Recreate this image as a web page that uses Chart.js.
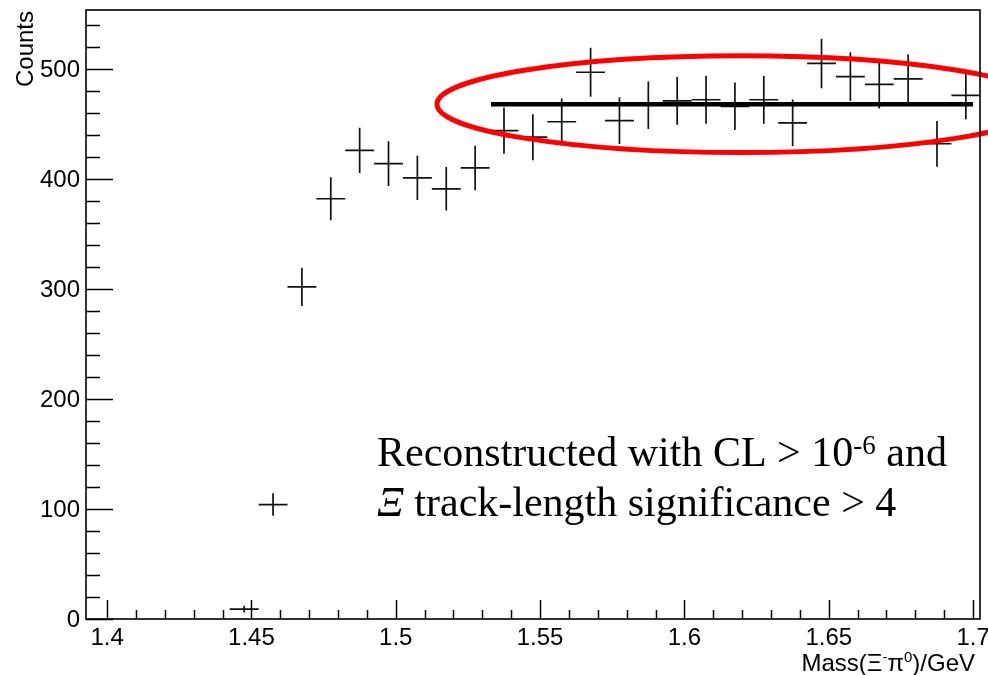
<!DOCTYPE html>
<html lang="en">
<head>
  <meta charset="UTF-8" />
  <title>Xi pi0 mass spectrum</title>
  <script src="https://cdn.jsdelivr.net/npm/chart.js"></script>
  <style>
    html, body { margin: 0; padding: 0; background: #fff; }
    #wrap { width: 988px; height: 675px; }
  </style>
</head>
<body>
  <div id="wrap"><canvas id="massChart" width="988" height="675"></canvas></div>

  <script>
    // bin centres (GeV) and counts
    const binCenters = [1.4475, 1.4575, 1.4675, 1.4775, 1.4875, 1.4975, 1.5075, 1.5175, 1.5275,
                        1.5375, 1.5475, 1.5575, 1.5675, 1.5775, 1.5875, 1.5975, 1.6075, 1.6175,
                        1.6275, 1.6375, 1.6475, 1.6575, 1.6675, 1.6775, 1.6875, 1.6975];
    const counts = [9, 104, 302, 382, 426, 414, 401, 391, 410,
                    444, 438, 452, 497, 453, 467, 471, 472, 466,
                    472, 451, 505, 493, 486, 491, 432, 476];
    const binWidth = 0.01;

    // flat fit over the upper region
    const fitRange = [1.533, 1.7];
    const fitLevel = 468;

    // axis ticks
    const xMajorTicks = [1.4, 1.45, 1.5, 1.55, 1.6, 1.65, 1.7];
    const xTickLabels = ['1.4', '1.45', '1.5', '1.55', '1.6', '1.65', '1.7'];
    const yMajorTicks = [0, 100, 200, 300, 400, 500];
    const yTickLabels = ['0', '100', '200', '300', '400', '500'];

    // highlighted region (centre and half-widths in data units)
    const ellipseCenter = [1.6195, 468];
    const ellipseRadii = [0.1052, 44];

    const points = binCenters.map((x, i) => ({ x: x, y: counts[i] }));

    // ROOT style crosses: bin width horizontally, sqrt(N) vertically
    const errorBars = {
      id: 'errorBars',
      beforeDatasetsDraw(chart) {
        const ctx = chart.ctx;
        const xs = chart.scales.x, ys = chart.scales.y;
        ctx.save();
        ctx.strokeStyle = '#111';
        ctx.lineWidth = 1.7;
        points.forEach(p => {
          const err = Math.sqrt(p.y);
          const px = xs.getPixelForValue(p.x);
          const py = ys.getPixelForValue(p.y);
          ctx.beginPath();
          ctx.moveTo(xs.getPixelForValue(p.x - binWidth / 2), py);
          ctx.lineTo(xs.getPixelForValue(p.x + binWidth / 2), py);
          ctx.moveTo(px, ys.getPixelForValue(p.y - err));
          ctx.lineTo(px, ys.getPixelForValue(p.y + err));
          ctx.stroke();
        });
        ctx.restore();
      }
    };

    // frame, inward ticks, labels, annotation
    const rootFrame = {
      id: 'rootFrame',
      afterDraw(chart) {
        const ctx = chart.ctx;
        const a = chart.chartArea;
        const xs = chart.scales.x, ys = chart.scales.y;
        ctx.save();

        // red ellipse
        const cx = xs.getPixelForValue(ellipseCenter[0]);
        const cy = ys.getPixelForValue(ellipseCenter[1]);
        const rx = xs.getPixelForValue(ellipseCenter[0] + ellipseRadii[0]) - cx;
        const ry = cy - ys.getPixelForValue(ellipseCenter[1] + ellipseRadii[1]);
        ctx.strokeStyle = '#ff0000';
        ctx.lineWidth = 5;
        ctx.beginPath();
        ctx.ellipse(cx, cy, rx, ry, 0, 0, Math.PI * 2);
        ctx.stroke();

        // frame
        ctx.strokeStyle = '#000';
        ctx.lineWidth = 1.6;
        ctx.strokeRect(a.left, a.top, a.right - a.left, a.bottom - a.top);

        // x ticks
        ctx.lineWidth = 1.5;
        ctx.beginPath();
        for (let i = 0; i <= 30; i++) {
          const v = 1.4 + i * 0.01;
          const px = Math.round(xs.getPixelForValue(v)) + 0.5;
          const len = (i % 5 === 0) ? 19 : 9;
          ctx.moveTo(px, a.bottom);
          ctx.lineTo(px, a.bottom - len);
        }
        // y ticks
        for (let v = 0; v <= 540; v += 20) {
          const py = Math.round(ys.getPixelForValue(v)) + 0.5;
          const len = (v % 100 === 0) ? 27 : 14;
          ctx.moveTo(a.left, py);
          ctx.lineTo(a.left + len, py);
        }
        ctx.stroke();

        // tick labels
        ctx.fillStyle = '#000';
        ctx.font = '24px "Liberation Sans", Arial, sans-serif';
        ctx.textAlign = 'center';
        ctx.textBaseline = 'alphabetic';
        xMajorTicks.forEach((v, i) => {
          ctx.fillText(xTickLabels[i], xs.getPixelForValue(v), 645);
        });
        ctx.textAlign = 'right';
        ctx.textBaseline = 'middle';
        yMajorTicks.forEach((v, i) => {
          ctx.fillText(yTickLabels[i], 80, ys.getPixelForValue(v) + 1);
        });

        // axis titles
        ctx.font = '24px "Liberation Sans", Arial, sans-serif';
        ctx.save();
        ctx.translate(33, 11);
        ctx.rotate(-Math.PI / 2);
        ctx.textAlign = 'right';
        ctx.textBaseline = 'alphabetic';
        ctx.fillText('Counts', 0, 0);
        ctx.restore();

        drawRich(ctx, [
          ['Mass(\u039E', 24, 0],
          ['-', 15, -9],
          ['\u03C0', 24, 0],
          ['0', 15, -9],
          [')/GeV', 24, 0]
        ], 975, 671, '"Liberation Sans", Arial, sans-serif', 'right');

        // annotation
        drawRich(ctx, [
          ['Reconstructed with CL > 10', 42, 0],
          ['-6', 27, -12],
          [' and', 42, 0]
        ], 377, 466, '"Liberation Serif", "Times New Roman", serif', 'left');
        drawRich(ctx, [
          ['\u039E', 42, 0, 'italic '],
          [' track-length significance > 4', 42, 0]
        ], 377, 516, '"Liberation Serif", "Times New Roman", serif', 'left');

        ctx.restore();
      }
    };

    // pieces: [text, size, baseline shift, style]
    function drawRich(ctx, pieces, x, y, family, align) {
      ctx.textAlign = 'left';
      ctx.textBaseline = 'alphabetic';
      const widths = pieces.map(p => {
        ctx.font = (p[3] || '') + p[1] + 'px ' + family;
        return ctx.measureText(p[0]).width;
      });
      const total = widths.reduce((s, w) => s + w, 0);
      let cx = align === 'right' ? x - total : x;
      pieces.forEach((p, i) => {
        ctx.font = (p[3] || '') + p[1] + 'px ' + family;
        ctx.fillText(p[0], cx, y + p[2]);
        cx += widths[i];
      });
    }

    new Chart(document.getElementById('massChart'), {
      type: 'scatter',
      data: {
        datasets: [
          {
            label: 'Counts',
            data: points,
            pointRadius: 0,
            pointHoverRadius: 0,
            showLine: false
          },
          {
            type: 'line',
            label: 'Fit',
            data: [{ x: fitRange[0], y: fitLevel }, { x: fitRange[1], y: fitLevel }],
            borderColor: '#000',
            borderWidth: 4.5,
            pointRadius: 0,
            fill: false
          }
        ]
      },
      options: {
        responsive: false,
        animation: false,
        layout: { padding: { left: 86, right: 8, top: 10, bottom: 56 } },
        plugins: {
          legend: { display: false },
          tooltip: { enabled: false }
        },
        scales: {
          x: { type: 'linear', min: 1.3927, max: 1.7024, display: false },
          y: { type: 'linear', min: 0, max: 553.6, display: false }
        }
      },
      plugins: [errorBars, rootFrame]
    });
  </script>
</body>
</html>
